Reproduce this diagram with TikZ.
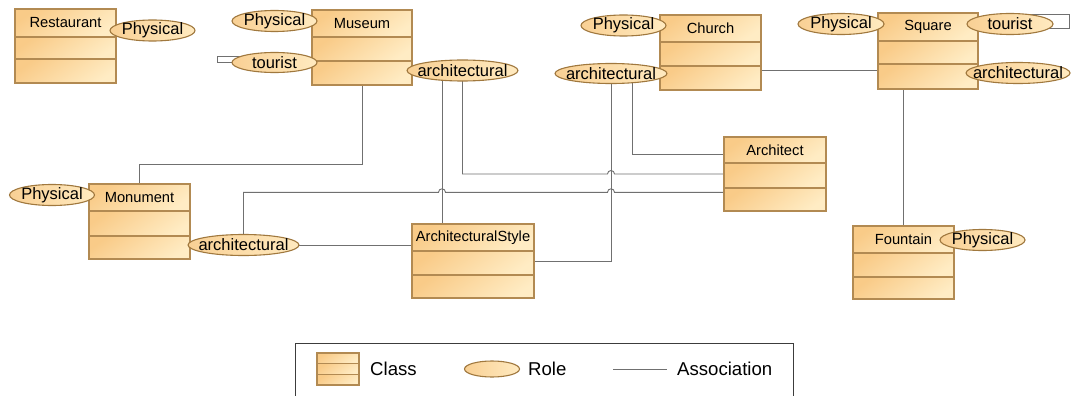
\documentclass[tikz,border=0pt]{standalone}
\usepackage{fontspec}
\setmainfont{Liberation Sans}
\usetikzlibrary{shapes.geometric,calc}
\pgfdeclarelayer{backdrop}
\pgfdeclarelayer{bg}
\pgfsetlayers{backdrop,bg,main}
\definecolor{cA}{RGB}{249,203,136}
\definecolor{cB}{RGB}{255,236,196}
\definecolor{cborder}{RGB}{178,138,82}
\definecolor{rA}{RGB}{249,208,148}
\definecolor{rB}{RGB}{255,234,192}
\definecolor{rborder}{RGB}{160,120,62}
\definecolor{assocc}{RGB}{112,112,112}
\definecolor{legc}{RGB}{60,60,60}
\tikzset{
  cfill/.style={top color=cA, bottom color=cB, shading angle=35},
  cline/.style={draw=cborder, line width=1.1pt},
  cbox/.style={draw=cborder, line width=1.2pt, rectangle, inner sep=0pt, outer sep=0pt},
  cname/.style={inner sep=0pt, font=\fontsize{14.7}{17}\selectfont, text=black},
  role/.style={ellipse, draw=rborder, line width=1.1pt, left color=rA, right color=rB, inner sep=0pt, outer sep=0pt},
  rlabel/.style={inner sep=0pt, font=\fontsize{16.5}{19}\selectfont, text=black},
  assoc/.style={draw=assocc, line width=0.9pt},
  legbox/.style={draw=legc, line width=1.3pt, rectangle, inner sep=0pt},
  lt/.style={inner sep=0pt, font=\fontsize{18.6}{21}\selectfont, text=black}
}
% #1 name, #2 x, #3 y top, #4 width, #5 height, #6 first divider, #7 second divider, #8 title
\newcommand\ClassBox[8]{%
  \shade[cfill] (#2,#3) rectangle (#2+#4,#3+#6);
  \shade[cfill] (#2,#3+#6) rectangle (#2+#4,#3+#7);
  \shade[cfill] (#2,#3+#7) rectangle (#2+#4,#3+#5);
  \draw[cline] (#2,#3+#6) -- (#2+#4,#3+#6);
  \draw[cline] (#2,#3+#7) -- (#2+#4,#3+#7);
  \node[cbox, minimum width=#4pt, minimum height=#5pt, anchor=north west] (#1) at (#2,#3) {};
  \node[cname] (#1-t) at (#2+#4/2,#3+#6/2) {#8};
}
\begin{document}
\begin{tikzpicture}[x=1pt,y=-1pt]
\useasboundingbox (0,0) rectangle (1071,396);
\begin{pgfonlayer}{backdrop}
  \fill[white] (0,0) rectangle (1071,396);
\end{pgfonlayer}

% classes
\ClassBox{rest}{15}{9}{101}{74}{28}{50}{Restaurant}
\ClassBox{mus}{312}{10}{100}{75}{27}{51}{Museum}
\ClassBox{church}{660}{15}{101}{75}{27}{51}{Church}
\ClassBox{square}{878}{13}{100}{76}{28}{51}{Square}
\ClassBox{mon}{89}{184}{101}{75}{27}{52}{Monument}
\ClassBox{as}{412}{224}{122}{74}{27}{51}{ArchitecturalStyle}
\ClassBox{architect}{724}{137}{102}{74}{26}{51}{Architect}
\ClassBox{fountain}{853}{226}{101}{73}{27}{51}{Fountain}

% roles
\node[role, minimum width=85pt, minimum height=21pt, label={[rlabel]center:Physical}] (rest-phys) at (152.5,30.5) {};
\node[role, minimum width=85pt, minimum height=21pt, label={[rlabel]center:Physical}] (mus-phys) at (274.5,21) {};
\node[role, minimum width=85pt, minimum height=20pt, label={[rlabel]center:tourist}] (mus-tour) at (274.5,62.5) {};
\node[role, minimum width=111pt, minimum height=21pt, label={[rlabel]center:architectural}] (mus-arch) at (462.5,70.5) {};
\node[role, minimum width=85pt, minimum height=21pt, label={[rlabel]center:Physical}] (ch-phys) at (623.5,25.5) {};
\node[role, minimum width=112pt, minimum height=20pt, label={[rlabel]center:architectural}] (ch-arch) at (611,73.5) {};
\node[role, minimum width=86pt, minimum height=21pt, label={[rlabel]center:Physical}] (sq-phys) at (841,24) {};
\node[role, minimum width=86pt, minimum height=21pt, label={[rlabel]center:tourist}] (sq-tour) at (1010,24) {};
\node[role, minimum width=104pt, minimum height=21pt, label={[rlabel]center:architectural}] (sq-arch) at (1018,73) {};
\node[role, minimum width=85pt, minimum height=21pt, label={[rlabel]center:Physical}] (mon-phys) at (52,195) {};
\node[role, minimum width=111pt, minimum height=21pt, label={[rlabel]center:architectural}] (mon-arch) at (243.5,245) {};
\node[role, minimum width=85pt, minimum height=21pt, label={[rlabel]center:Physical}] (fo-phys) at (982.5,240) {};

% connectors
\begin{pgfonlayer}{bg}
  % self loops
  \draw[assoc] ($(mus-tour.center)+(0,-6)$) -| ($(mus-tour.center)+(-57,0)$) -- (mus-tour.center);
  \draw[assoc] ($(sq-tour.center)+(0,-10)$) -| ($(sq-tour.center)+(59,4)$) -- ($(sq-tour.center)+(0,4)$);
  % Museum - Monument
  \draw[assoc] (mus.south) |- ($(mon.north)+(0,-20)$) -- (mon.north);
  % Church - Square
  \path ($(church.south east)+(0,-20)$) coordinate (g1);
  \draw[assoc] (g1) -- (g1 -| square.west);
  % Square - Fountain
  \draw[assoc] (fountain.north) -- (fountain.north |- square.south);
  % helper columns / rows
  \path ($(mus-arch.center)+(-20.5,0)$) coordinate (ma1);
  \path ($(ch-arch.center)+(21,0)$) coordinate (ca2);
  \path ($(architect.west)+(0,18.3)$) coordinate (eY);
  % museum architectural -> ArchitecturalStyle
  \draw[assoc] (ma1) -- (ma1 |- as.north);
  % museum architectural -> Architect (jump over church line)
  \draw[assoc] (mus-arch.center) |- ($(ch-arch.center |- architect.west)+(-3.5,0)$)
     arc[start angle=180, end angle=0, radius=3.5pt] -- (architect.west);
  % church architectural -> ArchitecturalStyle
  \draw[assoc] (ch-arch.center) |- (as.east);
  % church architectural -> Architect
  \draw[assoc] (ca2) |- ($(architect.west)+(0,-20)$);
  % monument architectural -> Architect (two jumps)
  \draw[assoc] (mon-arch.center) |- ($(ma1 |- eY)+(-3.5,0)$)
     arc[start angle=180, end angle=0, radius=3.5pt]
     -- ($(ch-arch.center |- eY)+(-3.5,0)$)
     arc[start angle=180, end angle=0, radius=3.5pt]
     -- (architect.west |- eY);
  % monument architectural -> ArchitecturalStyle
  \draw[assoc] (mon-arch.center) -- (mon-arch.center -| as.west);
\end{pgfonlayer}

% legend
\node[legbox, minimum width=498pt, minimum height=56pt, anchor=north west] (legend) at (295,343) {};
\ClassBox{legclass}{317}{353}{42}{32}{10.5}{21.5}{}
\node[lt, anchor=west] (leg-class-t) at (370,368.5) {Class};
\node[role, minimum width=55pt, minimum height=16pt] (legrole) at (492,369) {};
\node[lt, anchor=west] (leg-role-t) at (528,368.5) {Role};
\coordinate (la1) at (613,369.5);
\coordinate (la2) at (667,369.5);
\draw[assoc] (la1) -- (la2);
\node[lt, anchor=west] (leg-assoc-t) at (677,368.5) {Association};
\end{tikzpicture}
\end{document}
